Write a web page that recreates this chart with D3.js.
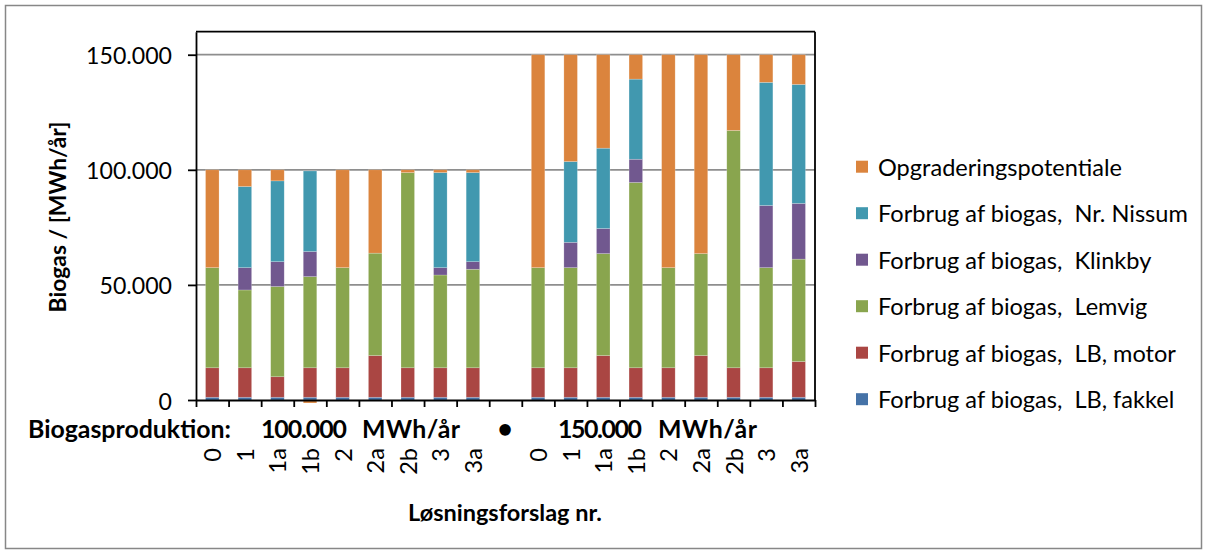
<!DOCTYPE html>
<html><head><meta charset="utf-8">
<script src="https://cdn.jsdelivr.net/npm/d3@7"></script>
<style>
html,body{margin:0;padding:0;background:#fff;}
svg text{font-family:Lato,"Open Sans",sans-serif;white-space:pre;fill:#000;}
</style></head><body>
<svg id="chart" width="1208" height="554"></svg>
<script>
// ---- data ----
const categories = ["0","1","1a","1b","2","2a","2b","3","3a","","0","1","1a","1b","2","2a","2b","3","3a"];
const fakkel    = [1200,1200,1200,1200,1200,1200,1200,1200,1200,0, 1200,1200,1200,1200,1200,1200,1200,1200,1200];
const motor     = [12800,12800,8900,12800,12800,18100,12800,12800,12800,0, 12800,12800,18100,12800,12800,18100,12800,12800,15500];
const lemvig    = [43500,33800,39200,39600,43500,44500,84800,40300,42800,0, 43500,43500,44300,80500,43500,44300,103100,43500,44500];
const klinkby   = [0,9700,10800,10900,0,0,0,3200,3300,0, 0,11000,10900,10100,0,0,0,27000,24200];
const nissum    = [0,35250,35100,35000,0,0,0,41300,38700,0, 0,35100,34900,34800,0,0,0,53500,51700];
const opgrad    = [42500,7250,4800,-1300,42500,36200,1200,1200,1200,0, 92500,46400,40600,10600,92500,86400,32900,12000,12900];
const seriesKeys  = ["fakkel","motor","lemvig","klinkby","nissum","opgrad"];
const seriesNames = ["Forbrug af biogas,  LB, fakkel","Forbrug af biogas,  LB, motor","Forbrug af biogas,  Lemvig","Forbrug af biogas,  Klinkby","Forbrug af biogas,  Nr. Nissum","Opgraderingspotentiale"];
const seriesColors = ["#4572A7","#AA4643","#89A54E","#71588F","#4198AF","#DB843D"];
const yTickValues = [0,50000,100000,150000];
const yTickLabels = ["0","50.000","100.000","150.000"];
const yMax = 160000;
const yTitle = "Biogas / [MWh/år]";
const xTitle = "Løsningsforslag nr.";
const groupPrefix = "Biogasproduktion:";
const groupLabels = ["100.000","MWh/år","•","150.000","MWh/år"];

// ---- setup ----
const svg = d3.select("#chart");
const L = 196, R = 815, T = 31.7, B = 400;

function fit(str, target, weight){
  const t = svg.append("text").attr("font-size",100).attr("font-weight",weight).text(str);
  const w = t.node().getComputedTextLength(); t.remove();
  return 100*target/w;
}
const fsReg = fit("Opgraderingspotentiale", 244, "normal");
const fsTick = fit("150.000", 86, "normal");
const fsBold = fit(groupPrefix, 203, "bold");
const fsXT = fit(xTitle, 194, "bold");
const fsYT = fit(yTitle, 191, "bold");

// outer border
svg.append("rect").attr("x",5.5).attr("y",5.5).attr("width",1196).attr("height",543)
  .attr("fill","#fff").attr("stroke","#878787").attr("stroke-width",1.5);

const rows = categories.map((c,i)=>({i, fakkel:fakkel[i], motor:motor[i], lemvig:lemvig[i], klinkby:klinkby[i], nissum:nissum[i], opgrad:opgrad[i]}));
const stacked = d3.stack().keys(seriesKeys).offset(d3.stackOffsetDiverging)(rows);

const n = categories.length;
const pad = 0.585;
const x = d3.scaleBand().domain(d3.range(n)).range([L,R]).paddingInner(pad).paddingOuter(pad/2);
const xb = d3.scaleLinear().domain([0,n]).range([L,R]);
const y = d3.scaleLinear().domain([0,yMax]).range([B,T]);

// gridlines
svg.append("g").selectAll("line").data(yTickValues.filter(v=>v>0)).join("line")
  .attr("x1",L).attr("x2",R).attr("y1",d=>y(d)).attr("y2",d=>y(d))
  .attr("stroke","#8e8e8e").attr("stroke-width",1.8);

// bars
svg.append("g").selectAll("g").data(stacked).join("g")
  .attr("fill",(d,i)=>seriesColors[i])
  .selectAll("rect").data(d=>d).join("rect")
  .attr("x",d=>x(d.data.i)).attr("width",x.bandwidth())
  .attr("y",d=>y(Math.max(d[0],d[1]))).attr("height",d=>Math.abs(y(d[0])-y(d[1])))
  .attr("stroke","rgba(255,255,255,0.35)").attr("stroke-width",0.6);

// frame top/right
svg.append("line").attr("x1",L).attr("x2",R).attr("y1",T).attr("y2",T).attr("stroke","#000").attr("stroke-width",1.8);
svg.append("line").attr("x1",R).attr("x2",R).attr("y1",T).attr("y2",B).attr("stroke","#000").attr("stroke-width",1.8);

// y axis
const yAxis = svg.append("g").attr("transform",`translate(${L},0)`)
  .call(d3.axisLeft(y).tickValues(yTickValues).tickFormat((d,i)=>yTickLabels[i]).tickSizeInner(8).tickSizeOuter(0).tickPadding(16));
yAxis.selectAll("path,line").attr("stroke","#000").attr("stroke-width",1.8);
yAxis.selectAll("text").attr("font-size",fsTick).attr("font-family","Lato").attr("dy",null).attr("dominant-baseline","central");

// x boundary ticks + axis line
const xAxisB = svg.append("g").attr("transform",`translate(0,${B})`)
  .call(d3.axisBottom(xb).tickValues(d3.range(n+1)).tickFormat("").tickSizeInner(7).tickSizeOuter(0));
xAxisB.selectAll("path,line").attr("stroke","#000").attr("stroke-width",1.8);

// x category labels
const xAxisC = svg.append("g").attr("transform",`translate(0,${B})`)
  .call(d3.axisBottom(x).tickFormat(i=>categories[i]).tickSize(0));
xAxisC.select(".domain").remove();
xAxisC.selectAll("text").attr("font-size",fsReg).attr("font-family","Lato")
  .attr("transform","rotate(-90)").attr("x",-48).attr("y",0).attr("dy",null)
  .attr("dominant-baseline","central").attr("text-anchor","end");

// group label line
const gl = svg.append("g").attr("font-weight","bold").attr("font-size",fsBold);
gl.append("text").attr("x",28).attr("y",428).attr("dominant-baseline","central").text(groupPrefix);
const glX = [261,362,505,558,658];
const glW = [86,98,0,84,99];
groupLabels.forEach((t,i)=>{
  const te = gl.append("text").attr("x",glX[i]).attr("y",428).attr("dominant-baseline","central")
    .attr("text-anchor", t==="•"?"middle":"start").text(t);
  if (t==="•") te.attr("font-size",fsBold*1.05);
  else te.attr("textLength",glW[i]).attr("lengthAdjust","spacing");
});

// axis titles
svg.append("text").attr("x",505).attr("y",512).attr("text-anchor","middle").attr("dominant-baseline","central")
  .attr("font-weight","bold").attr("font-size",fsXT).text(xTitle);
svg.append("text").attr("transform","translate(57,217) rotate(-90)").attr("text-anchor","middle").attr("dominant-baseline","central")
  .attr("font-weight","bold").attr("font-size",fsYT).text(yTitle);

// legend (top to bottom reverse of stacking)
const legendItems = d3.range(seriesKeys.length).reverse();
const lg = svg.append("g");
legendItems.forEach((si,k)=>{
  const cy = 166.7 + k*46.5;
  lg.append("rect").attr("x",856).attr("y",cy-6).attr("width",12).attr("height",12).attr("fill",seriesColors[si]);
  lg.append("text").attr("x",878).attr("y",cy).attr("dominant-baseline","central").attr("font-size",fsReg).text(seriesNames[si]);
});
</script>
</body></html>
